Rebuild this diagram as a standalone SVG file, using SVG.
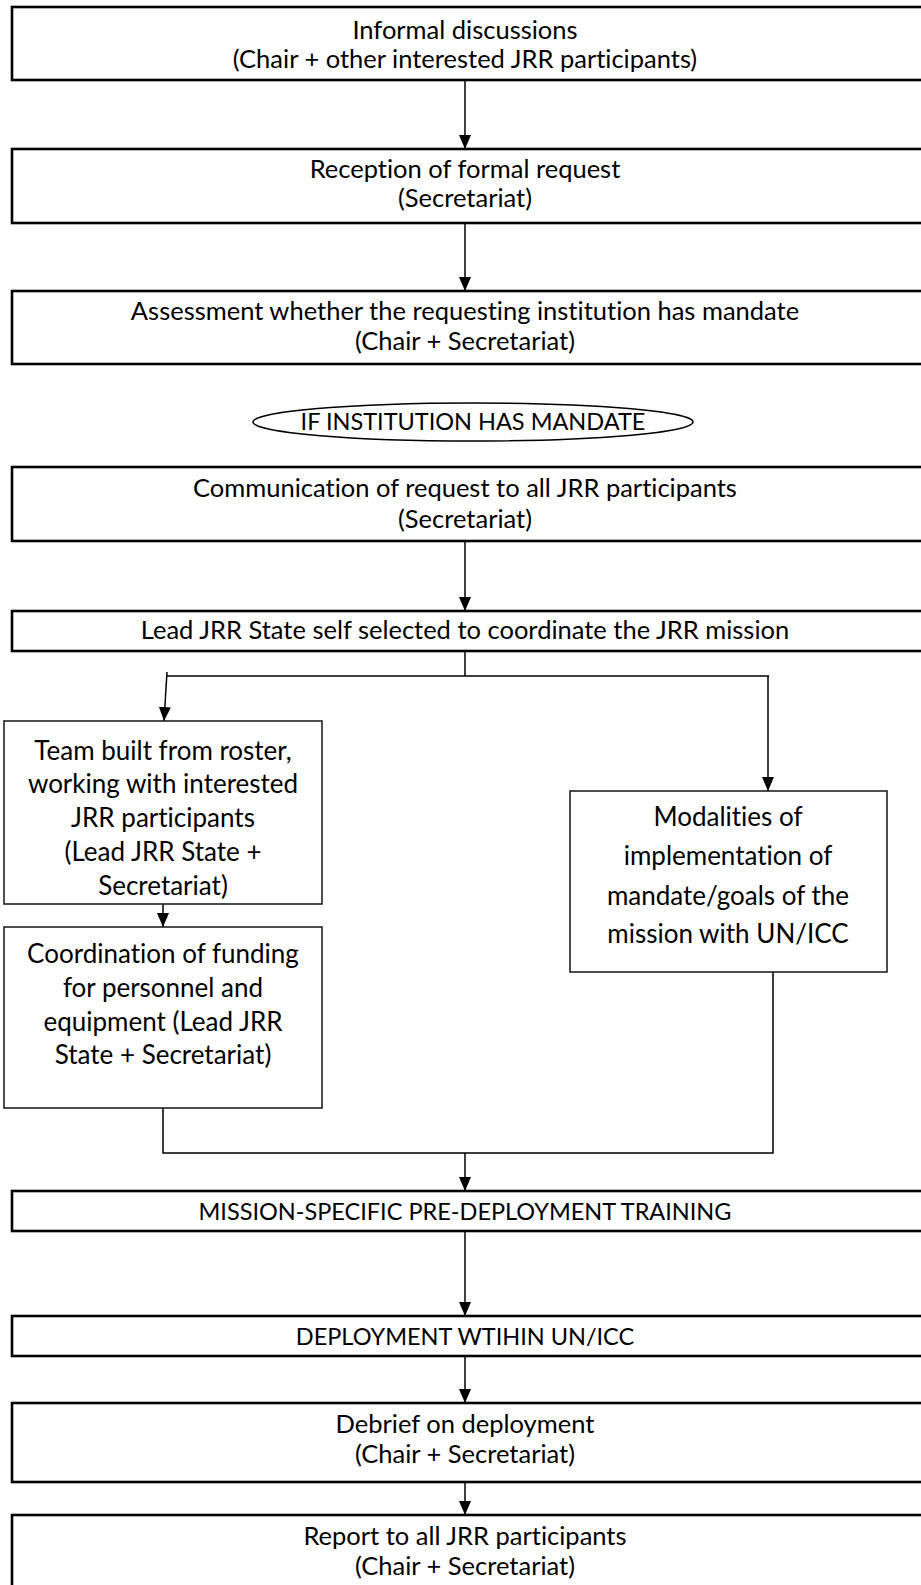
<svg xmlns="http://www.w3.org/2000/svg" width="921" height="1585" viewBox="0 0 921 1585">
<defs>
<style>
text{font-family:Lato,"Liberation Sans",sans-serif;font-size:25.5px;fill:#000;text-anchor:middle;font-variant-ligatures:none}
text.cap{font-size:23.5px}
text.c{font-size:26px}
.wide{fill:#fff;stroke:#000;stroke-width:2.6}
.col{fill:#fff;stroke:#222;stroke-width:1.6}
.ell{fill:#fff;stroke:#000;stroke-width:1.5}
.con{fill:none;stroke:#000;stroke-width:1.5}
</style>
<marker id="a" markerWidth="14" markerHeight="12" refX="14" refY="6" orient="auto" markerUnits="userSpaceOnUse" viewBox="0 0 14 12">
<path d="M0,0 L14,6 L0,12 Z" fill="#000"/>
</marker>
</defs>
<g id="connectors">
<line class="con" x1="465" y1="80" x2="465" y2="149" marker-end="url(#a)"/>
<line class="con" x1="465" y1="223" x2="465" y2="291" marker-end="url(#a)"/>
<line class="con" x1="465" y1="541" x2="465" y2="611" marker-end="url(#a)"/>
<polyline class="con" points="465,651 465,676"/>
<polyline class="con" points="166,676 769,676"/>
<line class="con" x1="167" y1="672" x2="164" y2="721" marker-end="url(#a)"/>
<line class="con" x1="768" y1="676" x2="768" y2="791" marker-end="url(#a)"/>
<line class="con" x1="163" y1="904" x2="163" y2="927" marker-end="url(#a)"/>
<polyline class="con" points="163,1108 163,1153 773,1153 773,972"/>
<line class="con" x1="465" y1="1153" x2="465" y2="1191" marker-end="url(#a)"/>
<line class="con" x1="465" y1="1231" x2="465" y2="1316" marker-end="url(#a)"/>
<line class="con" x1="465" y1="1356" x2="465" y2="1403" marker-end="url(#a)"/>
<line class="con" x1="465" y1="1482" x2="465" y2="1515" marker-end="url(#a)"/>
</g>
<g id="n1"><rect class="wide" x="12" y="7" width="930" height="73"/><text x="465" y="39">Informal discussions</text><text x="465" y="68">(Chair + other interested JRR participants)</text></g>
<g id="n2"><rect class="wide" x="12" y="149" width="930" height="74"/><text x="465" y="178">Reception of formal request</text><text x="465" y="207">(Secretariat)</text></g>
<g id="n3"><rect class="wide" x="12" y="291" width="930" height="73"/><text x="465" y="320">Assessment whether the requesting institution has mandate</text><text x="465" y="350">(Chair + Secretariat)</text></g>
<g id="n4"><ellipse class="ell" cx="473" cy="422" rx="220" ry="19"/><text class="cap" x="473" y="430">IF INSTITUTION HAS MANDATE</text></g>
<g id="n5"><rect class="wide" x="12" y="467" width="930" height="74"/><text x="465" y="497">Communication of request to all JRR participants</text><text x="465" y="528">(Secretariat)</text></g>
<g id="n6"><rect class="wide" x="12" y="611" width="930" height="40"/><text x="465" y="639">Lead JRR State self selected to coordinate the JRR mission</text></g>
<g id="n7"><rect class="col" x="4" y="721" width="318" height="183"/><text class="c" x="163" y="760">Team built from roster,</text><text class="c" x="163" y="793">working with interested</text><text class="c" x="163" y="827">JRR participants</text><text class="c" x="163" y="861">(Lead JRR State +</text><text class="c" x="163" y="895">Secretariat)</text></g>
<g id="n8"><rect class="col" x="4" y="927" width="318" height="181"/><text class="c" x="163" y="963">Coordination of funding</text><text class="c" x="163" y="997">for personnel and</text><text class="c" x="163" y="1031">equipment (Lead JRR</text><text class="c" x="163" y="1064">State + Secretariat)</text></g>
<g id="n9"><rect class="col" x="570" y="791" width="317" height="181"/><text class="c" x="728" y="826">Modalities of</text><text class="c" x="728" y="865">implementation of</text><text class="c" x="728" y="905">mandate/goals of the</text><text class="c" x="728" y="943">mission with UN/ICC</text></g>
<g id="n10"><rect class="wide" x="12" y="1191" width="930" height="40"/><text class="cap" x="465" y="1220">MISSION-SPECIFIC PRE-DEPLOYMENT TRAINING</text></g>
<g id="n11"><rect class="wide" x="12" y="1316" width="930" height="40"/><text class="cap" x="465" y="1345">DEPLOYMENT WTIHIN UN/ICC</text></g>
<g id="n12"><rect class="wide" x="12" y="1403" width="930" height="79"/><text x="465" y="1433">Debrief on deployment</text><text x="465" y="1463">(Chair + Secretariat)</text></g>
<g id="n13"><rect class="wide" x="12" y="1515" width="930" height="80"/><text x="465" y="1545">Report to all JRR participants</text><text x="465" y="1575">(Chair + Secretariat)</text></g>
</svg>
